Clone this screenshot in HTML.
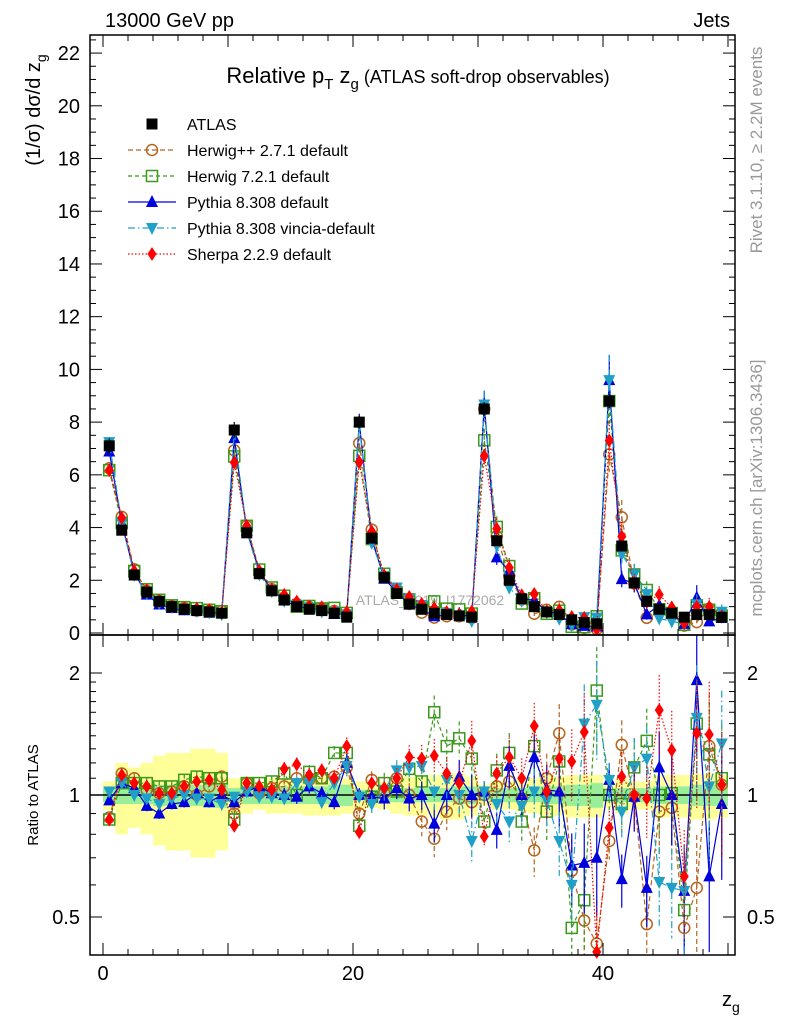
<!DOCTYPE html>
<html><head><meta charset="utf-8"><style>
body{margin:0;background:#fff;}
svg{display:block;font-family:"Liberation Sans",sans-serif;}
</style></head><body>
<svg id="c" width="786" height="1024" xmlns="http://www.w3.org/2000/svg">
<text x="105" y="27" font-size="20">13000 GeV pp</text>
<text x="730" y="27" font-size="20" text-anchor="end">Jets</text>
<text x="418" y="83" font-size="22" text-anchor="middle">Relative p<tspan font-size="15" dy="6">T</tspan><tspan dy="-6"> z</tspan><tspan font-size="15" dy="6">g</tspan><tspan dy="-6" font-size="18"> (ATLAS soft-drop observables)</tspan></text>
<text transform="translate(40,110) rotate(-90)" font-size="20" text-anchor="middle">(1/σ) dσ/d z<tspan font-size="14" dy="6">g</tspan></text>
<text transform="translate(38,795) rotate(-90)" font-size="15" text-anchor="middle">Ratio to ATLAS</text>
<text x="722" y="1006" font-size="20">z<tspan font-size="14" dy="6">g</tspan></text>
<text transform="translate(762,150) rotate(-90)" font-size="17" fill="#999" text-anchor="middle">Rivet 3.1.10, ≥ 2.2M events</text>
<text transform="translate(762,488) rotate(-90)" font-size="17" fill="#999" text-anchor="middle">mcplots.cern.ch [arXiv:1306.3436]</text>
<text x="430" y="605" font-size="14" fill="#aaa" text-anchor="middle">ATLAS_2019_I1772062</text>
<g id="gBand"></g><g id="gMain"></g><g id="gAxes"></g><g id="gLegend"></g>
</svg>
<script>
const atlas=[7.1,3.9,2.2,1.55,1.2,1.0,0.9,0.85,0.8,0.75, 7.7,3.8,2.25,1.6,1.25,1.0,0.9,0.85,0.75,0.6, 8.0,3.6,2.1,1.5,1.1,0.9,0.75,0.7,0.65,0.6, 8.5,3.5,2.0,1.3,1.0,0.8,0.7,0.5,0.4,0.35, 8.8,3.3,1.9,1.2,0.9,0.75,0.6,0.7,0.7,0.6];
const rHerwigPP=[0.88,1.13,1.1,1.03,1.01,1.02,1.05,1.0,1.05,1.11, 0.9,1.07,1.01,1.04,1.05,1.1,1.09,1.1,1.11,1.17, 0.9,1.09,1.01,1.1,1.0,0.86,0.78,0.91,0.98,0.96, 1.0,1.05,1.08,0.98,0.73,1.1,1.42,0.65,0.49,0.43, 0.77,1.33,0.99,0.48,0.91,0.93,0.47,0.59,1.32,1.06];
const rHerwig7=[0.87,1.07,1.07,1.07,1.05,1.05,1.09,1.11,1.1,1.1, 0.87,1.07,1.07,1.08,1.13,1.0,1.14,1.1,1.27,1.27, 0.84,0.99,1.07,1.02,1.16,1.08,1.6,1.32,1.38,1.23, 0.86,1.15,1.27,0.86,1.32,0.91,1.21,0.47,0.55,1.81, 1.0,0.95,1.17,1.36,1.0,1.01,0.52,1.5,1.26,1.1];
const rPythia=[0.97,1.07,1.04,0.94,0.9,0.95,0.96,1.01,0.96,1.0, 0.96,1.02,1.05,1.01,1.0,0.99,1.05,1.01,0.96,1.2, 1.0,0.99,0.98,1.04,0.98,1.0,0.85,1.0,1.11,1.0, 1.02,0.82,1.18,1.0,1.24,1.03,1.02,0.67,0.68,0.7, 1.09,0.62,0.99,0.59,1.17,1.0,0.58,1.92,0.63,0.95];
const rVincia=[1.02,1.07,1.0,0.98,0.95,0.98,1.0,0.98,0.98,0.95, 0.99,1.02,0.99,0.99,0.98,1.07,1.07,0.96,1.07,1.18, 0.99,0.95,1.03,1.15,1.17,1.18,1.02,1.09,1.0,0.77, 1.02,0.95,0.86,0.94,1.02,0.97,0.77,0.6,1.5,1.67, 1.09,0.91,1.17,1.23,0.61,0.59,0.58,1.55,1.05,1.34];
const rSherpa=[0.87,1.12,1.07,1.05,1.01,1.01,1.05,1.08,1.09,1.03, 0.84,1.07,1.05,1.03,1.16,1.19,1.12,1.15,1.1,1.32, 0.81,1.07,1.04,1.1,1.24,1.23,1.25,1.13,1.07,1.36, 0.79,1.13,1.24,1.1,1.48,1.02,1.23,1.21,1.43,0.41, 0.83,1.11,1.0,0.98,1.62,1.29,0.63,1.42,1.41,1.06];
const mcRelErr=[0.02,0.03,0.03,0.03,0.03,0.03,0.03,0.03,0.03,0.03, 0.03,0.03,0.03,0.03,0.04,0.04,0.04,0.04,0.04,0.05, 0.04,0.05,0.06,0.06,0.07,0.08,0.1,0.1,0.1,0.12, 0.06,0.1,0.12,0.12,0.14,0.15,0.18,0.2,0.25,0.28, 0.1,0.15,0.18,0.2,0.22,0.25,0.3,0.35,0.35,0.35];
const bandStat=[0.04,0.05,0.05,0.05,0.06,0.06,0.06,0.06,0.07,0.07, 0.04,0.05,0.05,0.05,0.05,0.05,0.05,0.05,0.06,0.06, 0.03,0.03,0.04,0.04,0.04,0.04,0.04,0.04,0.05,0.05, 0.03,0.04,0.04,0.04,0.04,0.05,0.05,0.06,0.06,0.07, 0.03,0.04,0.04,0.04,0.05,0.05,0.05,0.06,0.06,0.06];
const bandTot=[0.08,0.2,0.17,0.2,0.25,0.27,0.27,0.3,0.3,0.27, 0.1,0.1,0.08,0.1,0.1,0.1,0.11,0.11,0.11,0.1, 0.08,0.07,0.08,0.1,0.11,0.11,0.12,0.13,0.13,0.11, 0.06,0.08,0.08,0.09,0.1,0.12,0.11,0.12,0.12,0.12, 0.07,0.1,0.08,0.08,0.12,0.12,0.12,0.13,0.13,0.12];
const mainTicks=[0,2,4,6,8,10,12,14,16,18,20,22];
const xTicks=[0,20,40];
const ratioTicks=[0.5,1,2];

const NS="http://www.w3.org/2000/svg";
const L=90,R=735,MT=35,MB=635,RT=635,RB=955;
const X=v=>103+12.5*v;
const Y=v=>633-26.36*v;
const YR=v=>{let y=795-122*Math.log2(v);return Math.max(RT,Math.min(RB,y));};
function el(t,a,p){const e=document.createElementNS(NS,t);for(const k in a)e.setAttribute(k,a[k]);p.appendChild(e);return e;}
const gB=document.getElementById('gBand'),gM=document.getElementById('gMain'),gA=document.getElementById('gAxes'),gL=document.getElementById('gLegend');

atlas.forEach((v,i)=>{
  let r=el('rect',{x:X(i),y:YR(1+bandTot[i]),width:12.5,height:YR(1-bandTot[i])-YR(1+bandTot[i]),fill:'#ffff99'},gB);
  
  
  let s=el('rect',{x:X(i),y:YR(1+bandStat[i]),width:12.5,height:YR(1-bandStat[i])-YR(1+bandStat[i]),fill:'#99ee99'},gB);
  
  
});
let one=el('line',{x1:L,x2:R,y1:795,y2:795,stroke:'#000','stroke-width':1.5},gB);



function marker(kind,x,y,c,g){
  let m;
  if(kind==='circle')m=el('circle',{cx:x,cy:y,r:5.5,fill:'none',stroke:c,'stroke-width':1.5},g);
  else if(kind==='square')m=el('rect',{x:x-5.5,y:y-5.5,width:11,height:11,fill:'none',stroke:c,'stroke-width':1.5},g);
  else if(kind==='tri')m=el('polygon',{points:`${x},${y-7} ${x-6},${y+5} ${x+6},${y+5}`,fill:c},g);
  else if(kind==='tridown')m=el('polygon',{points:`${x},${y+7} ${x-6},${y-5} ${x+6},${y-5}`,fill:c},g);
  else if(kind==='diamond')m=el('polygon',{points:`${x},${y-7} ${x-4.5},${y} ${x},${y+7} ${x+4.5},${y}`,fill:c},g);
  else m=el('rect',{x:x-5.5,y:y-5.5,width:11,height:11,fill:c},g);
  return m;
}
const series=[
 {name:'herwigpp',r:rHerwigPP,c:'#b5651d',dash:'5,3',m:'circle',label:'Herwig++ 2.7.1 default'},
 {name:'herwig7',r:rHerwig7,c:'#3a9a1a',dash:'4,3',m:'square',label:'Herwig 7.2.1 default'},
 {name:'pythia',r:rPythia,c:'#0000dd',dash:'',m:'tri',label:'Pythia 8.308 default'},
 {name:'vincia',r:rVincia,c:'#1fa0c8',dash:'7,3,1.5,3',m:'tridown',label:'Pythia 8.308 vincia-default'},
 {name:'sherpa',r:rSherpa,c:'#ff0000',dash:'1.5,2',m:'diamond',label:'Sherpa 2.2.9 default'}
];
series.forEach(s=>{
  const g=el('g',{},gM);
  
  
  const vals=atlas.map((a,i)=>a*s.r[i]);
  const da=s.dash?{'stroke-dasharray':s.dash}:{};
  let pts=vals.map((v,i)=>X(i+0.5)+','+Y(v)).join(' ');
  el('polyline',Object.assign({points:pts,fill:'none',stroke:s.c,'stroke-width':1.2},da),g);
  let rp=s.r.map((v,i)=>X(i+0.5)+','+YR(v)).join(' ');
  el('polyline',Object.assign({points:rp,fill:'none',stroke:s.c,'stroke-width':1.2},da),g);
  vals.forEach((v,i)=>{
    const x=X(i+0.5),e=mcRelErr[i];
    el('line',Object.assign({x1:x,x2:x,y1:Y(v*(1+e)),y2:Y(v*(1-e)),stroke:s.c,'stroke-width':1.2},da),g);
    el('line',Object.assign({x1:x,x2:x,y1:YR(s.r[i]*(1+e)),y2:YR(s.r[i]*(1-e)),stroke:s.c,'stroke-width':1.2},da),g);
    const mk=marker(s.m,x,Y(v),s.c,g);
    
    
    if(s.r[i]>0.4&&s.r[i]<2.45){
      const mr=marker(s.m,x,YR(s.r[i]),s.c,g);
      
      
    }
  });
});
atlas.forEach((v,i)=>{
  const x=X(i+0.5);
  el('line',{x1:x,x2:x,y1:Y(v*(1+bandStat[i])),y2:Y(v*(1-bandStat[i])),stroke:'#000','stroke-width':1.2},gM);
  const m=marker('fsq',x,Y(v),'#000',gM);
  
  
});
function frame(t,b,nm){const r=el('rect',{x:L,y:t,width:R-L,height:b-t,fill:'none',stroke:'#000','stroke-width':1.5},gA);}
frame(MT,MB,'main-plot-frame');frame(RT,RB,'ratio-plot-frame');
for(let v=0;v<=22.5;v+=0.5){const y=Y(v);if(y<MT)break;const len=(v%2===0)?12:6;
  el('line',{x1:L,x2:L+len,y1:y,y2:y,stroke:'#000'},gA);el('line',{x1:R,x2:R-len,y1:y,y2:y,stroke:'#000'},gA);}
mainTicks.forEach(v=>{const t=el('text',{x:80,y:Y(v)+7,'font-size':20,'text-anchor':'end'},gA);t.textContent=v;});
for(let v=0;v<=50;v+=2){const len=(v%10===0)?12:6;[MB,RB].forEach(b=>{el('line',{x1:X(v),x2:X(v),y1:b,y2:b-len,stroke:'#000'},gA);});el('line',{x1:X(v),x2:X(v),y1:MT,y2:MT+len,stroke:'#000'},gA);el('line',{x1:X(v),x2:X(v),y1:RT,y2:RT+len,stroke:'#000'},gA);}
xTicks.forEach(v=>{const t=el('text',{x:X(v),y:980,'font-size':20,'text-anchor':'middle'},gA);t.textContent=v;});
[0.4,0.5,0.6,0.7,0.8,0.9,1,2].forEach(v=>{const y=YR(v);const len=(v===0.5||v===1||v===2)?12:6;el('line',{x1:L,x2:L+len,y1:y,y2:y,stroke:'#000'},gA);el('line',{x1:R,x2:R-len,y1:y,y2:y,stroke:'#000'},gA);});
[1.1,1.2,1.3,1.4,1.5,1.6,1.7,1.8,1.9].forEach(v=>{const y=YR(v);el('line',{x1:L,x2:L+6,y1:y,y2:y,stroke:'#000'},gA);el('line',{x1:R,x2:R-6,y1:y,y2:y,stroke:'#000'},gA);});
ratioTicks.forEach(v=>{
  const a=el('text',{x:80,y:YR(v)+7,'font-size':20,'text-anchor':'end'},gA);a.textContent=v;
  const b=el('text',{x:747,y:YR(v)+7,'font-size':20},gA);b.textContent=v;
});
const le=el('g',{},gL);
marker('fsq',152,124,'#000',le);
let lt=el('text',{x:187,y:130,'font-size':16},le);lt.textContent='ATLAS';
series.forEach((s,k)=>{
  const y=150+26*k;
  const g=el('g',{},gL);
  
  
  el('line',Object.assign({x1:128,x2:176,y1:y,y2:y,stroke:s.c,'stroke-width':1.2},s.dash?{'stroke-dasharray':s.dash}:{}),g);
  marker(s.m,152,y,s.c,g);
  const t=el('text',{x:187,y:y+6,'font-size':16},g);t.textContent=s.label;
});
</script>
</body></html>
